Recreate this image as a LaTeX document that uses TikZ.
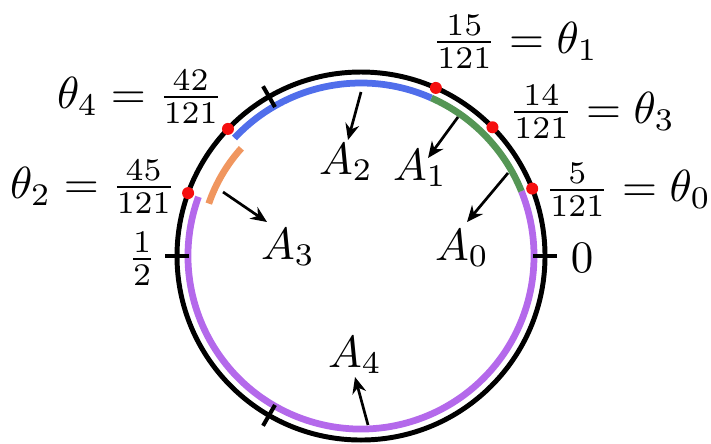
\documentclass[tikz,border=0pt]{standalone}
\usetikzlibrary{arrows.meta}
\definecolor{arcblue}{RGB}{80,110,235}
\definecolor{arcgreen}{RGB}{85,150,85}
\definecolor{arcorange}{RGB}{240,150,95}
\definecolor{arcpurple}{RGB}{180,105,235}
\definecolor{dotred}{RGB}{245,15,15}
\begin{document}
\begin{tikzpicture}[x=0.2222pt,y=0.2222pt,
  colarc/.style={line width=1.5pt},
  tickmark/.style={line width=0.9pt},
  reddot/.style={fill=dotred, draw=none},
  arr/.style={line width=0.6pt, -{Stealth[length=3.6pt,width=3.1pt]}},
  lab/.style={inner sep=0pt, anchor=center}]
\path[use as bounding box] (0,0) rectangle (711,443);
\coordinate (c) at (361,187);
% coloured arcs
\draw[colarc, arcpurple] ([shift={(160:173)}]c) arc[start angle=160, end angle=382, radius=173];
\draw[colarc, arcgreen] ([shift={(22:173)}]c) arc[start angle=22, end angle=66, radius=173];
\draw[colarc, arcblue] ([shift={(66:173)}]c) arc[start angle=66, end angle=137, radius=173];
\draw[colarc, arcorange] ([shift={(138:161)}]c) arc[start angle=138, end angle=161, radius=161];
% main circle
\draw[line width=1.1pt] (c) circle[radius=184];
% ticks
\foreach \a in {0,120,180,240}
  \draw[tickmark] ([shift={(\a:172)}]c) -- ([shift={(\a:196)}]c);
% red dots
\foreach \a/\n in {21.5/d0,44.4/d3,66/d1,136.3/d4,160/d2}
  \fill[reddot] ([shift={(\a:184)}]c) coordinate (\n) circle[radius=6];
% labels
\node[lab] (t1) at (515,401) {$\frac{15}{121}=\theta_1$};
\node[lab] (t3) at (592,331) {$\frac{14}{121}=\theta_3$};
\node[lab] (t0) at (628,253) {$\frac{5}{121}=\theta_0$};
\node[lab] (z) at (582,185) {$0$};
\node[lab] (t4) at (140,346) {$\theta_4=\frac{42}{121}$};
\node[lab] (t2) at (93,256) {$\theta_2=\frac{45}{121}$};
\node[lab] (h) at (142,184) {$\frac{1}{2}$};
\node[lab] (A2) at (346,281) {$A_2$};
\node[lab] (A1) at (420,275) {$A_1$};
\node[lab] (A0) at (462,195) {$A_0$};
\node[lab] (A3) at (288,196) {$A_3$};
\node[lab] (A4) at (355,88) {$A_4$};
% arrows
\coordinate (a2s) at (361,351); \coordinate (a2e) at (348,303);
\coordinate (a1s) at (458,326); \coordinate (a1e) at (428,285);
\coordinate (a0s) at (508,270); \coordinate (a0e) at (467,221);
\coordinate (a3s) at (223,251); \coordinate (a3e) at (267,221);
\coordinate (a4s) at (368,18);  \coordinate (a4e) at (355,66);
\draw[arr] (a2s) -- (a2e);
\draw[arr] (a1s) -- (a1e);
\draw[arr] (a0s) -- (a0e);
\draw[arr] (a3s) -- (a3e);
\draw[arr] (a4s) -- (a4e);
\end{tikzpicture}
\end{document}
